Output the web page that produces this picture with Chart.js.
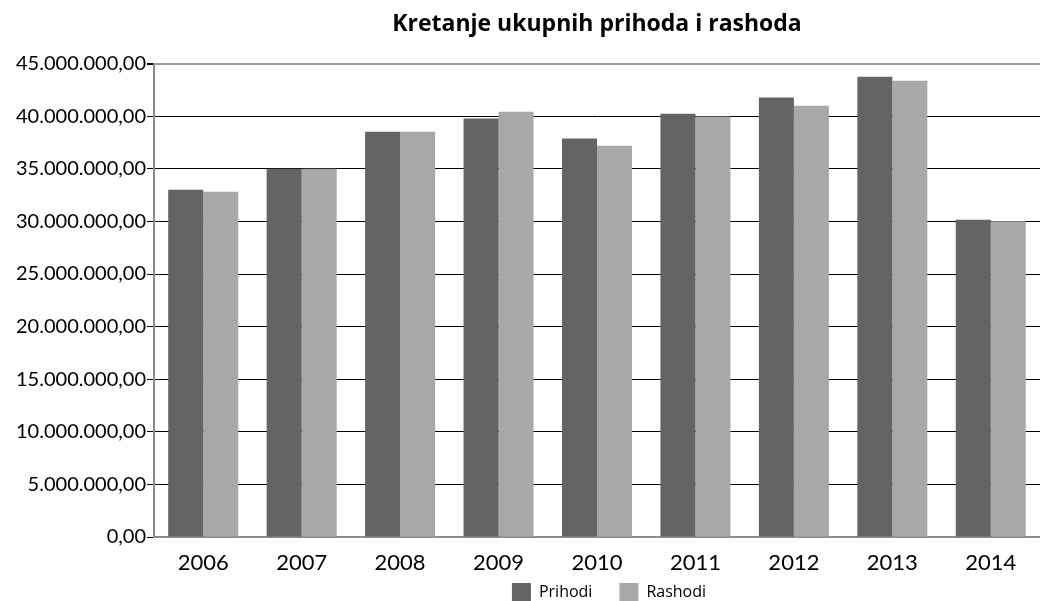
<!DOCTYPE html>
<html>
<head>
<meta charset="utf-8">
<script src="https://cdn.jsdelivr.net/npm/chart.js@4"></script>
<style>
html,body{margin:0;padding:0;background:#fff;}
#wrap{width:1040px;height:601px;position:relative;}
</style>
</head>
<body>
<div id="wrap"><canvas id="c" width="1040" height="601"></canvas></div>
<script>
const categories = ['2006','2007','2008','2009','2010','2011','2012','2013','2014'];
const prihodi = [33010000, 35010000, 38530000, 39770000, 37870000, 40240000, 41770000, 43760000, 30160000];
const rashodi = [32820000, 35010000, 38530000, 40430000, 37200000, 39960000, 41000000, 43380000, 30020000];
const seriesNames = ['Prihodi', 'Rashodi'];
const titleText = 'Kretanje ukupnih prihoda i rashoda';

function fmt(v) {
  const neg = v < 0;
  v = Math.abs(v);
  const parts = v.toFixed(2).split('.');
  const intPart = parts[0].replace(/\B(?=(\d{3})+(?!\d))/g, '.');
  return (neg ? '-' : '') + intPart + ',' + parts[1];
}

const LEGEND_PAD = 27;
const legendPlacer = {
  id: 'legendPlacer',
  afterInit(chart) {
    const lg = chart.legend;
    if (lg && !lg._patched) {
      const orig = lg.fit.bind(lg);
      lg.fit = function() { orig(); this.height = 24; };
      lg._patched = true;
    }
  },
  afterLayout(chart) {
    const lg = chart.legend;
    if (lg) {
      lg.top = 583 - LEGEND_PAD;
      lg.bottom = chart.height;
      lg.height = lg.bottom - lg.top;
      lg.left = chart.chartArea.left + 12;
      lg.right = chart.chartArea.right + 12;
    }
  }
};

new Chart(document.getElementById('c'), {
  type: 'bar',
  data: {
    labels: categories,
    datasets: [
      { label: seriesNames[0], data: prihodi, backgroundColor: '#646462', borderWidth: 0 },
      { label: seriesNames[1], data: rashodi, backgroundColor: '#a8a8a8', borderWidth: 0 }
    ]
  },
  plugins: [legendPlacer],
  options: {
    responsive: false,
    animation: false,
    devicePixelRatio: 1,
    layout: { padding: { left: 0, right: 0, top: 0, bottom: 0 } },
    datasets: { bar: { categoryPercentage: 0.711, barPercentage: 1.0 } },
    plugins: {
      title: {
        display: true,
        fullSize: false,
        text: titleText,
        color: '#000',
        font: { family: 'Open Sans', size: 23, weight: 'bold', lineHeight: 1.2 },
        padding: { top: 11, bottom: 25 },
        align: 'center'
      },
      legend: {
        display: true,
        fullSize: false,
        position: 'bottom',
        labels: {
          color: '#000',
          font: { family: 'Open Sans', size: 16 },
          boxWidth: 19,
          boxHeight: 19,
          padding: LEGEND_PAD
        }
      },
      tooltip: { enabled: false }
    },
    scales: {
      x: {
        grid: { display: false, drawTicks: false },
        border: { display: true, color: '#8c8c8c', width: 2 },
        ticks: { color: '#000', font: { family: 'Lato', size: 22 }, padding: 13 },
        afterFit: (s) => { s.height = 40; }
      },
      y: {
        min: 0,
        max: 45000000,
        grid: {
          color: (ctx) => (ctx.tick && ctx.tick.value === 45000000) ? '#9a9a9a' : '#000',
          lineWidth: (ctx) => (ctx.tick && ctx.tick.value === 45000000) ? 2 : 1,
          tickLength: 7,
          tickColor: '#000'
        },
        border: { display: true, color: '#8c8c8c', width: 2 },
        ticks: {
          stepSize: 5000000,
          color: '#000',
          font: { family: 'Lato', size: 20 },
          padding: 1,
          callback: (v) => fmt(v)
        },
        afterFit: (s) => { s.width = 154; }
      }
    }
  }
});
</script>
</body>
</html>
